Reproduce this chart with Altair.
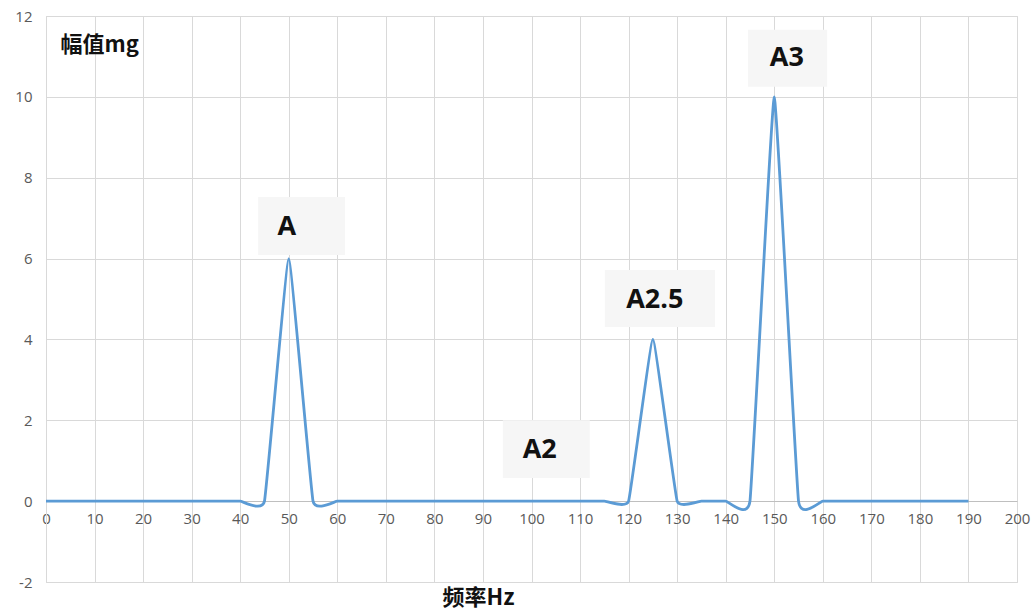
import altair as alt
import pandas as pd

# Spectrum samples (frequency in Hz, amplitude in mg)
freq = [0, 5, 10, 15, 20, 25, 30, 35, 40, 45, 50, 55, 60, 65, 70, 75, 80, 85, 90, 95,
        100, 105, 110, 115, 120, 125, 130, 135, 140, 145, 150, 155, 160, 165, 170, 175,
        180, 185, 190]
amp = [0, 0, 0, 0, 0, 0, 0, 0, 0, 0, 6, 0, 0, 0, 0, 0, 0, 0, 0, 0,
       0, 0, 0, 0, 0, 4, 0, 0, 0, 0, 10, 0, 0, 0, 0, 0,
       0, 0, 0]

# Peak annotations
label_text = ["A", "A2", "A2.5", "A3"]
label_x = [49.6, 101.7, 125.4, 152.6]
label_y = [6.78, 1.26, 4.98, 10.97]
box_x1 = [43.7, 94.1, 115.1, 144.6]
box_x2 = [61.6, 112.0, 137.8, 160.9]
box_y1 = [6.09, 0.57, 4.31, 10.25]
box_y2 = [7.52, 2.00, 5.72, 11.66]

x_ticks = list(range(0, 201, 10))
y_ticks = list(range(-2, 13, 2))

spec = pd.DataFrame({"freq": freq, "amp": amp})
notes = pd.DataFrame({
    "text": label_text, "x": label_x, "y": label_y,
    "x1": box_x1, "x2": box_x2, "y1": box_y1, "y2": box_y2,
})

x_scale = alt.Scale(domain=[0, 200], nice=False, zero=False)
y_scale = alt.Scale(domain=[-2, 12], nice=False, zero=False)

x_axis = alt.Axis(
    values=x_ticks, grid=True, gridColor="#d9d9d9", gridWidth=1,
    domain=True, domainColor="#bfbfbf", domainWidth=1, ticks=False,
    offset=-81, labelPadding=10, labelFont="Open Sans", labelFontSize=15,
    labelColor="#595959", labelFlush=False,
    title="频率Hz", titleFont="Noto Sans CJK SC", titleFontSize=22,
    titleFontWeight="bold", titleColor="#111111",
    titleX=432, titleY=96, titleAnchor=None, titleAlign="center",
    titleBaseline="middle",
)
y_axis = alt.Axis(
    values=y_ticks, grid=True, gridColor="#d9d9d9", gridWidth=1,
    domain=True, domainColor="#d9d9d9", domainWidth=1, ticks=False,
    labelPadding=14, labelFont="Open Sans", labelFontSize=15,
    labelColor="#595959", labelExpr="'' + datum.value",
    title="幅值mg", titleFont="Noto Sans CJK SC", titleFontSize=22,
    titleFontWeight="bold", titleColor="#111111", titleAngle=0,
    titleX=14, titleY=28, titleAlign="left", titleBaseline="middle",
)

line = alt.Chart(spec).mark_line(
    interpolate="cardinal", tension=0.72, color="#5b9bd5", strokeWidth=2.8
).encode(
    x=alt.X("freq:Q", scale=x_scale, axis=x_axis),
    y=alt.Y("amp:Q", scale=y_scale, axis=y_axis),
)

boxes = alt.Chart(notes).mark_rect(color="#f6f6f6").encode(
    x=alt.X("x1:Q", scale=x_scale),
    x2="x2:Q",
    y=alt.Y("y1:Q", scale=y_scale),
    y2="y2:Q",
)

texts = alt.Chart(notes).mark_text(
    font="Open Sans", fontSize=27, fontWeight="bold", color="#111111",
    align="center", baseline="middle",
).encode(
    x=alt.X("x:Q", scale=x_scale),
    y=alt.Y("y:Q", scale=y_scale),
    text="text:N",
)

chart = alt.layer(boxes, line, texts).properties(
    width=971, height=566,
    padding={"left": 46, "top": 16, "right": 16, "bottom": 28},
    autosize=alt.AutoSizeParams(type="none"),
    background="white",
).configure_view(stroke="#d9d9d9", strokeWidth=1)

chart.save("out.html", embed_options={"renderer": "svg", "actions": False})
